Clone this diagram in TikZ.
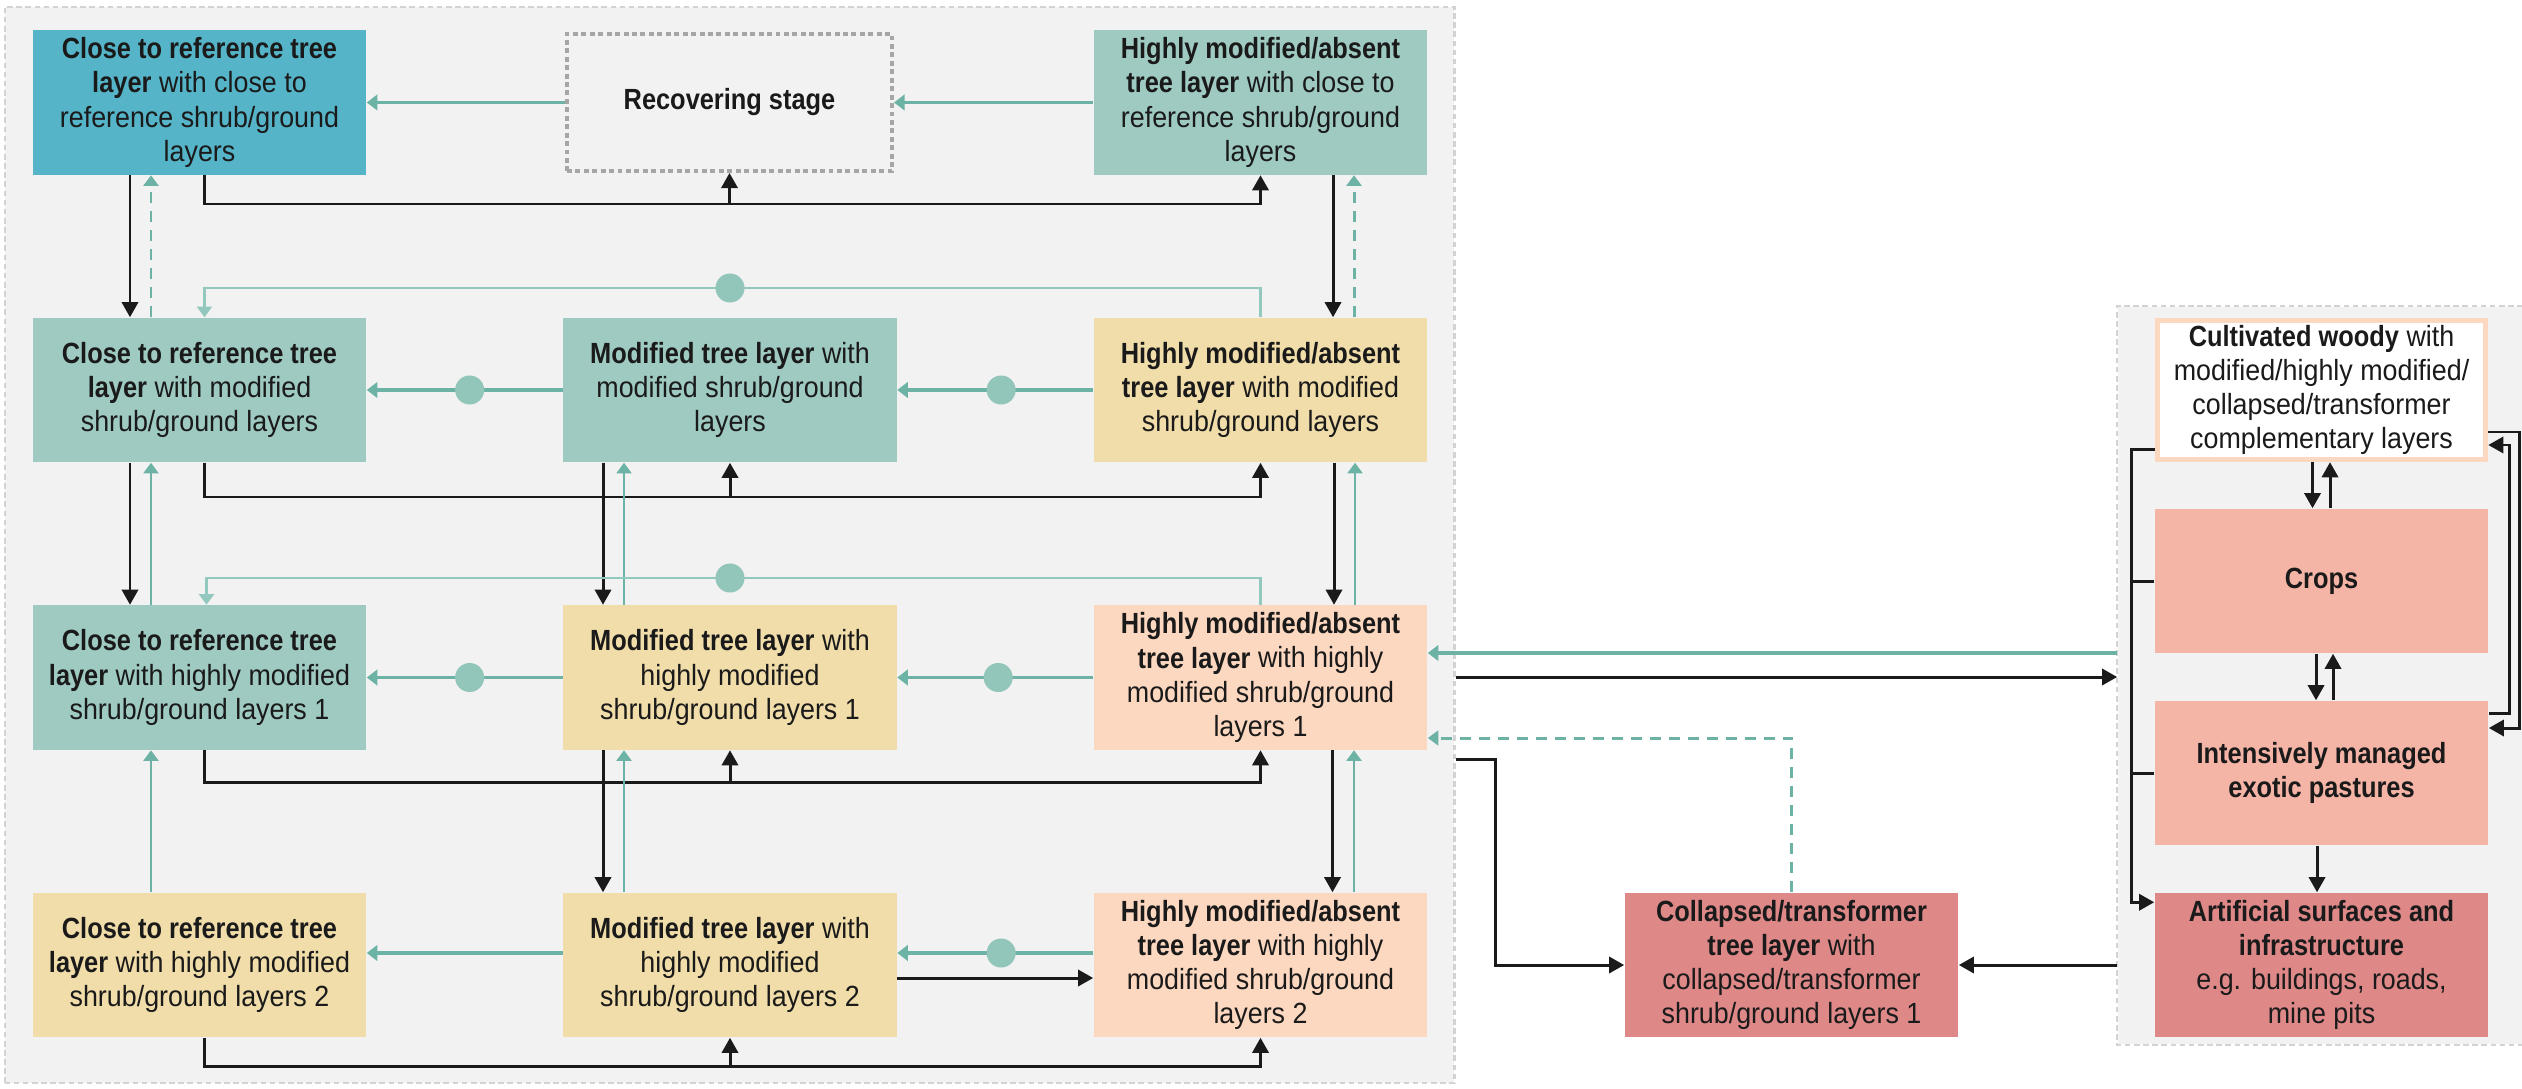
\documentclass[tikz,border=0pt]{standalone}
\usepackage{fontspec}
\setmainfont{Liberation Sans}[UprightFeatures={FakeStretch=0.92},BoldFeatures={FakeStretch=0.87}]
\usetikzlibrary{arrows.meta,calc}
\definecolor{cBlue}{HTML}{56B4C8}
\definecolor{cTG}{HTML}{9ECAC2}
\definecolor{cYel}{HTML}{F0DDA9}
\definecolor{cPeach}{HTML}{FDD8C0}
\definecolor{cRed}{HTML}{DE8888}
\definecolor{cSalmon}{HTML}{F4B4A6}
\definecolor{cPanel}{HTML}{F2F2F2}
\definecolor{cBorder}{HTML}{D3D3D3}
\definecolor{cDotted}{HTML}{A6A6A6}
\definecolor{cTeal}{HTML}{6DB3A5}
\definecolor{cTealL}{HTML}{93C8BE}
\definecolor{cDot}{HTML}{93C6BB}
\definecolor{cInk}{HTML}{1A1A1A}
\begin{document}
\begin{tikzpicture}[x=0.01cm,y=-0.01cm,
  box/.style={minimum width=3.33cm, minimum height=1.44cm, inner sep=0pt, align=center,
    font=\fontsize{8.3}{9.7}\selectfont, text=cInk},
  panel/.style={fill=cPanel, inner sep=0pt},
  dot/.style={circle, fill=cDot, minimum size=0.29cm, inner sep=0pt},
  blk/.style={draw=cInk, line width=0.85pt, -{Triangle[length=4.3pt,width=4.6pt]}},
  blkline/.style={draw=cInk, line width=0.85pt},
  tarr/.style={draw=cTeal, line width=0.9pt, -{Triangle[length=3pt,width=4.4pt]}},
  tvert/.style={draw=cTeal, line width=0.75pt, -{Triangle[length=3pt,width=4.2pt]}},
  tloop/.style={draw=cTealL, line width=0.75pt, -{Triangle[length=3pt,width=4.2pt]}},
  tdash/.style={draw=cTeal, line width=0.85pt, dash pattern=on 3.2pt off 2.2pt, -{Triangle[length=3pt,width=4.2pt]}}
]
\useasboundingbox (0,0) rectangle (2522,1088);
% panels
\node[panel, draw=cBorder, dash pattern=on 1.6pt off 1pt, line width=0.6pt,
  minimum width=14.49cm, minimum height=10.76cm] (LP) at (729.5,545) {};
\node[panel, minimum width=4.04cm, minimum height=7.37cm] (RP) at (2320,675.5) {};
\draw[cBorder, dash pattern=on 1.6pt off 1pt, line width=0.6pt]
  (RP.north east) -- (RP.north west) -- (RP.south west) -- (RP.south east);

% row 1
\node[box, fill=cBlue] (A1) at (199.5,102.5) {\textbf{Close to reference tree}\\\textbf{layer} with close to\\reference shrub/ground\\layers};
\node[box, draw=cDotted, line width=1.1pt, dash pattern=on 1.4pt off 1pt,
  minimum width=3.25cm, minimum height=1.37cm] (Rec) at (729.5,102.5) {\textbf{Recovering stage}};
\node[box, fill=cTG] (C1) at (1260.5,102.5) {\textbf{Highly modified/absent}\\\textbf{tree layer} with close to\\reference shrub/ground\\layers};
% row 2
\node[box, fill=cTG] (A2) at (199.5,390) {\textbf{Close to reference tree}\\\textbf{layer} with modified\\shrub/ground layers};
\node[box, fill=cTG] (B2) at (730,390) {\textbf{Modified tree layer} with\\modified shrub/ground\\layers};
\node[box, fill=cYel] (C2) at (1260.5,390) {\textbf{Highly modified/absent}\\\textbf{tree layer} with modified\\shrub/ground layers};
% row 3
\node[box, fill=cTG] (A3) at (199.5,677.5) {\textbf{Close to reference tree}\\\textbf{layer} with highly modified\\shrub/ground layers 1};
\node[box, fill=cYel] (B3) at (730,677.5) {\textbf{Modified tree layer} with\\highly modified\\shrub/ground layers 1};
\node[box, fill=cPeach] (C3) at (1260.5,677.5) {\textbf{Highly modified/absent}\\\textbf{tree layer} with highly\\modified shrub/ground\\layers 1};
% row 4
\node[box, fill=cYel] (A4) at (199.5,965) {\textbf{Close to reference tree}\\\textbf{layer} with highly modified\\shrub/ground layers 2};
\node[box, fill=cYel] (B4) at (730,965) {\textbf{Modified tree layer} with\\highly modified\\shrub/ground layers 2};
\node[box, fill=cPeach] (C4) at (1260.5,965) {\textbf{Highly modified/absent}\\\textbf{tree layer} with highly\\modified shrub/ground\\layers 2};
% collapsed
\node[box, fill=cRed] (Coll) at (1791.5,965) {\textbf{Collapsed/transformer}\\\textbf{tree layer} with\\collapsed/transformer\\shrub/ground layers 1};
% right column
\node[box, fill=white, draw=cPeach, line width=1.5pt, minimum width=3.28cm, minimum height=1.39cm] (Cult) at (2321.5,390) {\textbf{Cultivated woody} with\\modified/highly modified/\\collapsed/transformer\\complementary layers};
\node[box, fill=cSalmon] (Crops) at (2321.5,581) {\textbf{Crops}};
\node[box, fill=cSalmon] (Past) at (2321.5,773) {\textbf{Intensively managed}\\\textbf{exotic pastures}};
\node[box, fill=cRed] (Art) at (2321.5,965) {\textbf{Artificial surfaces and}\\\textbf{infrastructure}\\e.g. buildings, roads,\\mine pits};

% helper levels
\coordinate (h1) at (0,204);
\coordinate (h2) at (0,497);
\coordinate (h3) at (0,782);
\coordinate (h4) at (0,1066);
\coordinate (l2) at (0,288);
\coordinate (l3) at (0,578);
\coordinate (y653) at (0,653);
\coordinate (y677) at (0,677);
\coordinate (y738) at (0,738);
\coordinate (y759) at (0,759);

% ---- row 1
\draw[tarr] (Rec.west) -- (A1.east);
\draw[tarr] (C1.west) -- (Rec.east);
\draw[blk] ($(A1.south)+(5,0)$) |- (h1 -| C1.south) -- (C1.south);
\draw[blk] (h1 -| Rec.south) -- (Rec.south);
\draw[blk] ($(A1.south)+(-69.5,0)$) -- ($(A2.north)+(-69.5,0)$);
\draw[tdash] ($(A2.north)+(-48.5,0)$) -- ($(A1.south)+(-48.5,0)$);
\draw[blk] ($(C1.south)+(72.5,0)$) -- ($(C2.north)+(72.5,0)$);
\draw[tdash] ($(C2.north)+(93.5,0)$) -- ($(C1.south)+(93.5,0)$);

% ---- row 2
\draw[tarr] (C2.west) -- node[dot, pos=0.47]{} (B2.east);
\draw[tarr] (B2.west) -- node[dot, pos=0.475]{} (A2.east);
\draw[tloop] (C2.north) -- (l2 -| C2.north) -| ($(A2.north)+(5,0)$);
\node[dot] (d2) at (l2 -| B2.north) {};
\draw[blk] ($(A2.south)+(5,0)$) |- (h2 -| C2.south) -- (C2.south);
\draw[blk] (h2 -| B2.south) -- (B2.south);
\draw[blk] ($(A2.south)+(-69.5,0)$) -- ($(A3.north)+(-69.5,0)$);
\draw[tvert] ($(A3.north)+(-48.5,0)$) -- ($(A2.south)+(-48.5,0)$);
\draw[blk] ($(B2.south)+(-127,0)$) -- ($(B3.north)+(-127,0)$);
\draw[tvert] ($(B3.north)+(-106,0)$) -- ($(B2.south)+(-106,0)$);
\draw[blk] ($(C2.south)+(73.5,0)$) -- ($(C3.north)+(73.5,0)$);
\draw[tvert] ($(C3.north)+(94.5,0)$) -- ($(C2.south)+(94.5,0)$);

% ---- row 3
\draw[tarr] (C3.west) -- node[dot, pos=0.485]{} (B3.east);
\draw[tarr] (B3.west) -- node[dot, pos=0.475]{} (A3.east);
\draw[tloop] (C3.north) -- (l3 -| C3.north) -| ($(A3.north)+(7,0)$);
\node[dot] (d3) at (l3 -| B3.north) {};
\draw[blk] ($(A3.south)+(5,0)$) |- (h3 -| C3.south) -- (C3.south);
\draw[blk] (h3 -| B3.south) -- (B3.south);
\draw[tvert] ($(A4.north)+(-48.5,0)$) -- ($(A3.south)+(-48.5,0)$);
\draw[blk] ($(B3.south)+(-127,0)$) -- ($(B4.north)+(-127,0)$);
\draw[tvert] ($(B4.north)+(-106,0)$) -- ($(B3.south)+(-106,0)$);
\draw[blk] ($(C3.south)+(72,0)$) -- ($(C4.north)+(72,0)$);
\draw[tvert] ($(C4.north)+(93.5,0)$) -- ($(C3.south)+(93.5,0)$);

% ---- row 4
\draw[tarr] ($(C4.west)+(0,-12)$) -- node[dot, pos=0.47]{} ($(B4.east)+(0,-12)$);
\draw[blk] ($(B4.east)+(0,13)$) -- ($(C4.west)+(0,13)$);
\draw[tarr] ($(B4.west)+(0,-12)$) -- ($(A4.east)+(0,-12)$);
\draw[blk] ($(A4.south)+(5,0)$) |- (h4 -| C4.south) -- (C4.south);
\draw[blk] (h4 -| B4.south) -- (B4.south);

% ---- between groups
\draw[tarr] (y653 -| RP.west) -- (y653 -| C3.east);
\draw[blk] (y677 -| LP.east) -- (y677 -| RP.west);
\draw[tdash] (Coll.north) |- (y738 -| C3.east);
\draw[blk] (y759 -| LP.east) -- ++(40,0) |- (Coll.west);
\draw[blk] (Coll.east -| RP.west) -- (Coll.east);

% ---- right group
\draw[blk] ($(Cult.south)+(-9,0)$) -- ($(Crops.north)+(-9,0)$);
\draw[blk] ($(Crops.north)+(8.5,0)$) -- ($(Cult.south)+(8.5,0)$);
\draw[blk] ($(Crops.south)+(-5.5,0)$) -- ($(Past.north)+(-5.5,0)$);
\draw[blk] ($(Past.north)+(11.5,0)$) -- ($(Crops.south)+(11.5,0)$);
\draw[blk] ($(Past.south)+(-4.5,0)$) -- ($(Art.north)+(-4.5,0)$);
\draw[blk] ($(Cult.south west)+(0,-13)$) -- ++(-23,0) |- ($(Art.north west)+(0,10)$);
\draw[blkline] (Crops.west) -- ++(-23,0);
\draw[blkline] (Past.west) -- ++(-23,0);
\draw[blk] ($(Cult.east)+(0,42)$) -- ++(31,0) |- ($(Past.east)+(0,-45)$);
\draw[blk] ($(Past.east)+(0,-60)$) -- ++(21,0) |- ($(Cult.east)+(0,55)$);
\end{tikzpicture}
\end{document}
